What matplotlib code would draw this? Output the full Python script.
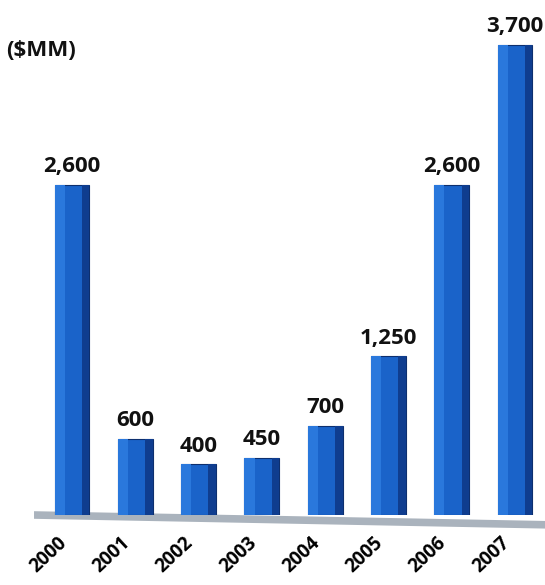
import matplotlib
matplotlib.use("Agg")
import matplotlib.pyplot as plt
from matplotlib.patches import Polygon
import matplotlib.transforms as mtransforms

years = ["2000", "2001", "2002", "2003", "2004", "2005", "2006", "2007"]
values = [2600, 600, 400, 450, 700, 1250, 2600, 3700]
labels = ["2,600", "600", "400", "450", "700", "1,250", "2,600", "3,700"]

plt.rcParams['font.family'] = ['Open Sans', 'DejaVu Sans']

fig = plt.figure(figsize=(5.45, 5.85), dpi=100)
ax = fig.add_axes([0, 70/585, 1, 508/585])
x = list(range(len(years)))
w = 0.55

# floor
floor = Polygon([(-0.6, -30), (7.8, -110), (7.8, -50), (-0.6, 30)],
                closed=True, facecolor='#aab3bd', edgecolor='none', clip_on=False, zorder=1)
ax.add_patch(floor)

ax.bar(x, values, width=w, color='#1a63c9', edgecolor='#0d2f6e', linewidth=0.8, zorder=2)
ax.bar([xi + w/2 - 0.06 for xi in x], values, width=0.12, color='#0f3d8f', zorder=3)
ax.bar([xi - w/2 + 0.08 for xi in x], values, width=0.16, color='#2a78dc', linewidth=0, zorder=3)

for xi, v, lab in zip(x, values, labels):
    ax.text(xi, v + 60, lab, ha='center', va='bottom', fontsize=16, fontweight='bold', color='#111111')

ax.set_xlim(-72/63.3, 7 + 30/63.3)
ax.set_ylim(0, 4000)
ax.set_xticks(x)
ax.set_xticklabels(years, rotation=43, ha='right', rotation_mode='anchor', fontsize=13.5, fontweight='bold')
ax.tick_params(axis='x', length=0, pad=13)
offset = mtransforms.ScaledTranslation(-15/100, 0, fig.dpi_scale_trans)
for t in ax.get_xticklabels():
    t.set_transform(t.get_transform() + offset)
ax.set_yticks([])
for s in ax.spines.values():
    s.set_visible(False)
ax.patch.set_alpha(0)

fig.text(6/545, 1 - 56/585, "($MM)", fontsize=16, fontweight='bold', color='#111111')

fig.savefig("out.png", dpi=100)
